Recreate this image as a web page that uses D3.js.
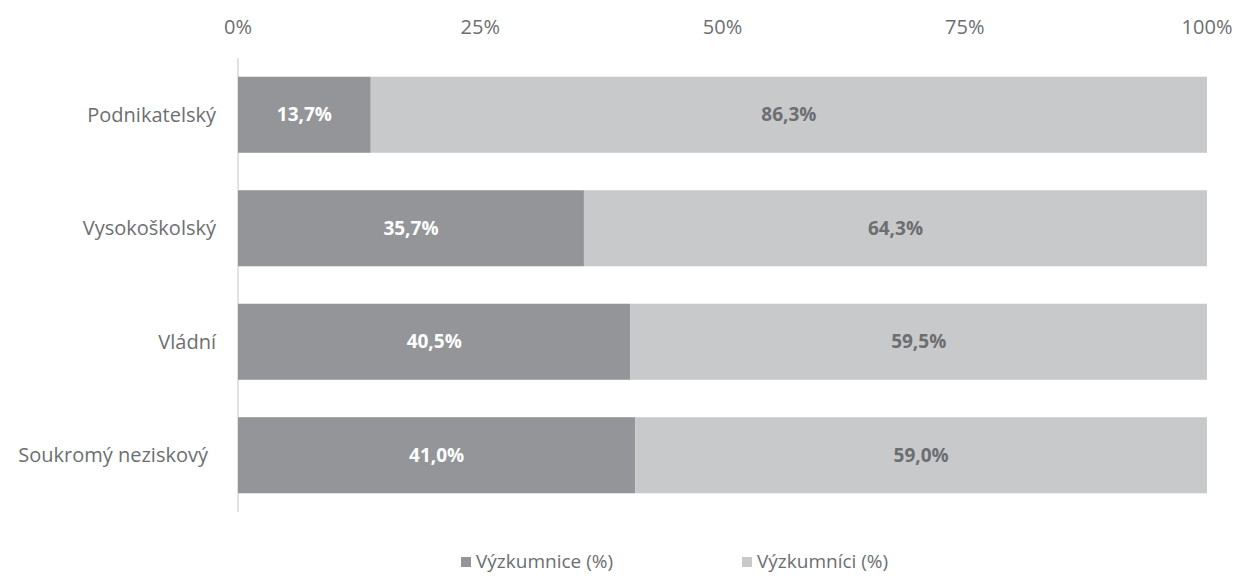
<!DOCTYPE html>
<html>
<head>
<meta charset="utf-8">
<script src="https://cdn.jsdelivr.net/npm/d3@7"></script>
<style>
  body { margin: 0; background: #fff; }
  text { font-family: "Open Sans", "Liberation Sans", sans-serif; }
</style>
</head>
<body>
<script>
const categories = ["Podnikatelský", "Vysokoškolský", "Vládní", "Soukromý neziskový"];
const seriesNames = ["Výzkumnice (%)", "Výzkumníci (%)"];
const zeny = [13.7, 35.7, 40.5, 41.0];
const muzi = [86.3, 64.3, 59.5, 59.0];
const tickValues = [0, 25, 50, 75, 100];
const colors = ["#949598", "#c8c9cb"];

const width = 1237, height = 576;
const svg = d3.select("body").append("svg").attr("width", width).attr("height", height);

const x = d3.scaleLinear().domain([0, 100]).range([238, 1207]);
const y = d3.scaleBand().domain(categories).range([58, 512]).paddingInner(0.33).paddingOuter(0.165);

// osa
svg.append("line")
    .attr("x1", x(0)).attr("x2", x(0))
    .attr("y1", 58).attr("y2", 512)
    .attr("stroke", "#d9d9d9").attr("stroke-width", 1.5);

// popisky nahoře
svg.selectAll(".tick").data(tickValues).enter().append("text")
    .attr("x", d => x(d)).attr("y", 27)
    .attr("dy", "0.35em")
    .attr("text-anchor", "middle")
    .attr("font-size", 20).attr("fill", "#6d6e71")
    .text(d => d + "%");

// kategorie
svg.selectAll(".cat").data(categories).enter().append("text")
    .attr("x", (d, i) => i === 3 ? 208 : 216).attr("y", d => y(d) + y.bandwidth() / 2)
    .attr("dy", "0.35em")
    .attr("text-anchor", "end")
    .attr("font-size", 20).attr("fill", "#6d6e71")
    .text(d => d);

const fmt = v => v.toFixed(1).replace(".", ",") + "%";

const rows = categories.map((c, i) => ({ c, z: zeny[i], m: muzi[i] }));

const g = svg.selectAll(".row").data(rows).enter().append("g");

g.append("rect")
    .attr("x", x(0)).attr("y", d => y(d.c))
    .attr("width", d => x(d.z) - x(0)).attr("height", y.bandwidth())
    .attr("fill", colors[0]);

g.append("rect")
    .attr("x", d => x(d.z)).attr("y", d => y(d.c))
    .attr("width", d => x(d.z + d.m) - x(d.z)).attr("height", y.bandwidth())
    .attr("fill", colors[1]);

g.append("text")
    .attr("x", d => (x(0) + x(d.z)) / 2).attr("y", d => y(d.c) + y.bandwidth() / 2)
    .attr("dy", "0.35em").attr("text-anchor", "middle")
    .attr("font-size", 19).attr("font-weight", "bold").attr("fill", "#fff")
    .text(d => fmt(d.z));

g.append("text")
    .attr("x", d => (x(d.z) + x(d.z + d.m)) / 2).attr("y", d => y(d.c) + y.bandwidth() / 2)
    .attr("dy", "0.35em").attr("text-anchor", "middle")
    .attr("font-size", 19).attr("font-weight", "bold").attr("fill", "#6d6e71")
    .text(d => fmt(d.m));

// legenda
const legX = [461, 742];
const leg = svg.selectAll(".leg").data(seriesNames).enter().append("g")
    .attr("transform", (d, i) => `translate(${legX[i]},561)`);
leg.append("rect").attr("x", 0).attr("y", -4).attr("width", 10).attr("height", 10)
    .attr("fill", (d, i) => colors[i]);
leg.append("text").attr("x", 15).attr("y", 0).attr("dy", "0.35em")
    .attr("font-size", 19).attr("fill", "#6d6e71")
    .text(d => d);
</script>
</body>
</html>
